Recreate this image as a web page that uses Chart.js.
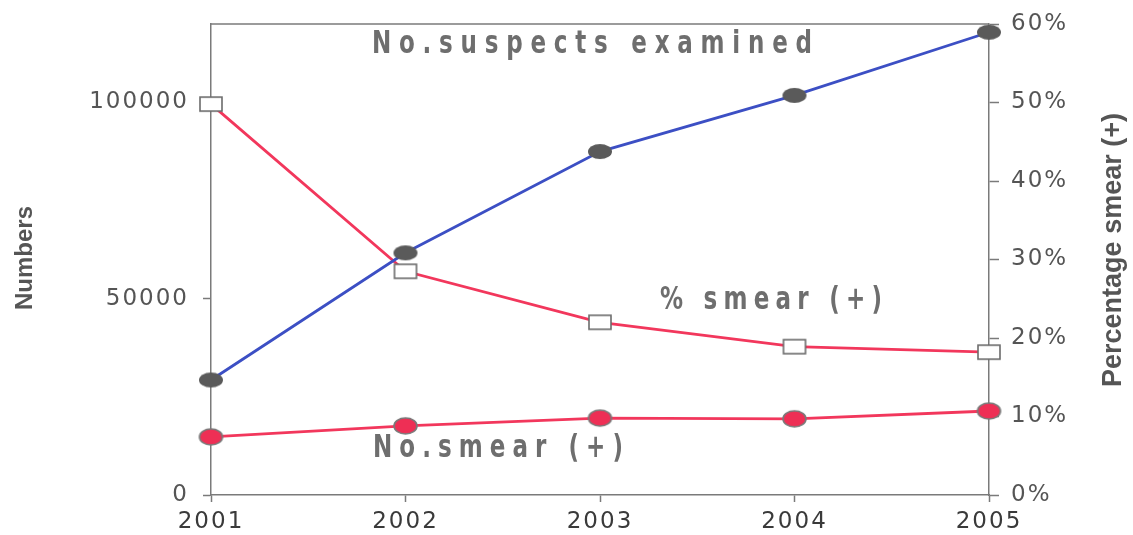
<!DOCTYPE html>
<html>
<head>
<meta charset="utf-8">
<script src="https://cdn.jsdelivr.net/npm/chart.js@4/dist/chart.umd.min.js"></script>
<style>
html,body{margin:0;padding:0;background:#fff;}
#wrap{width:1133px;height:535px;position:relative;}
</style>
</head>
<body>
<div id="wrap"><canvas id="c"></canvas></div>
<script>
// data
const years = ['2001','2002','2003','2004','2005'];
const suspectsExamined = [29300, 61700, 87500, 101800, 117900];
const smearPositive = [14800, 17600, 19600, 19400, 21400];
const pctSmear = [49.8, 28.5, 22.0, 18.9, 18.2];
const leftTicks = [0, 50000, 100000];
const rightTicks = [0, 10, 20, 30, 40, 50, 60];

// marker images
function ellipseMark(w, h, fill, stroke){
  const c = document.createElement('canvas'); c.width = w + 4; c.height = h + 4;
  const g = c.getContext('2d');
  g.beginPath(); g.ellipse(c.width/2, c.height/2, w/2, h/2, 0, 0, Math.PI*2);
  g.fillStyle = fill; g.fill();
  if (stroke){ g.lineWidth = 1.6; g.strokeStyle = stroke; g.stroke(); }
  return c;
}
function boxMark(w, h){
  const c = document.createElement('canvas'); c.width = w + 4; c.height = h + 4;
  const g = c.getContext('2d');
  g.fillStyle = '#fff'; g.fillRect(2, 2, w, h);
  g.lineWidth = 1.6; g.strokeStyle = '#6b6b6b'; g.strokeRect(2, 2, w, h);
  return c;
}
const greyDot = ellipseMark(24, 15, '#5a5a5a', null);
const redDot = ellipseMark(23, 16, '#ee2f55', '#7a7a7a');
const openBox = boxMark(22, 14);

// narrow, letter-spaced label stretched to a given width
function spaced(ctx, text, cx, cy, width, color){
  const sx = 0.72;
  ctx.save();
  ctx.font = 'bold 32px "DejaVu Sans", sans-serif'; ctx.fillStyle = color;
  ctx.textBaseline = 'middle'; ctx.textAlign = 'left';
  ctx.letterSpacing = '0px';
  const w0 = ctx.measureText(text).width;
  const ls = (width / sx - w0) / (text.length - 1);
  ctx.letterSpacing = ls + 'px';
  ctx.translate(cx - width/2, cy); ctx.scale(sx, 1);
  ctx.fillText(text, 0, 0);
  ctx.restore();
}

const extras = {
  id: 'extras',
  beforeLayout(chart){ chart.ctx.letterSpacing = '2px'; },
  beforeDraw(chart){ chart.ctx.letterSpacing = '2px'; },
  afterDraw(chart){
    const ctx = chart.ctx, a = chart.chartArea;
    ctx.save();
    ctx.letterSpacing = '0px';
    ctx.strokeStyle = '#7a7a7a'; ctx.lineWidth = 1.5;
    ctx.beginPath(); ctx.moveTo(a.left, a.top); ctx.lineTo(a.right, a.top); ctx.stroke();
    // axis titles
    ctx.fillStyle = '#555'; ctx.textAlign = 'center'; ctx.textBaseline = 'middle';
    ctx.font = 'bold 24px "Liberation Sans", Arial, sans-serif';
    ctx.translate(25, 258); ctx.rotate(-Math.PI/2); ctx.fillText('Numbers', 0, 0);
    ctx.setTransform(1,0,0,1,0,0);
    ctx.font = 'bold 27px "Liberation Sans", Arial, sans-serif';
    ctx.translate(1114, 250); ctx.rotate(-Math.PI/2); ctx.fillText('Percentage smear (+)', 0, 0);
    ctx.restore();
    spaced(ctx, 'No.suspects examined', 592, 45, 440, '#6e6e6e');
    spaced(ctx, '% smear (+)', 771, 301, 222, '#6e6e6e');
    spaced(ctx, 'No.smear (+)', 498, 449, 250, '#6e6e6e');
  }
};

const axisCol = '#7a7a7a';
const tickFont = { family: '"DejaVu Sans", sans-serif', size: 23 };
new Chart(document.getElementById('c'), {
  type: 'line',
  data: {
    labels: years,
    datasets: [
      { label: 'No.suspects examined', data: suspectsExamined, yAxisID: 'y', borderColor: '#3c4fc4', borderWidth: 2.8,
        pointStyle: greyDot, clip: false, tension: 0 },
      { label: 'No.smear (+)', data: smearPositive, yAxisID: 'y', borderColor: '#f2375c', borderWidth: 2.8,
        pointStyle: redDot, clip: false, tension: 0 },
      { label: '% smear (+)', data: pctSmear, yAxisID: 'y1', borderColor: '#f2375c', borderWidth: 2.8,
        pointStyle: openBox, clip: false, tension: 0 }
    ]
  },
  options: {
    responsive: true, maintainAspectRatio: false, animation: false,
    layout: { padding: { top: 24, left: 0, right: 0, bottom: 0 } },
    plugins: { legend: { display: false }, tooltip: { enabled: false } },
    scales: {
      x: {
        offset: false,
        grid: { drawOnChartArea: false, tickLength: 7, color: axisCol, tickWidth: 1.5 },
        border: { color: axisCol, width: 1.5 },
        ticks: { color: '#3a3a3a', padding: 6, font: tickFont, maxRotation: 0 },
        afterFit(s){ s.height = 40; }
      },
      y: {
        position: 'left', min: 0, max: 120000,
        afterBuildTicks(s){ s.ticks = leftTicks.map(v => ({ value: v })); },
        grid: { drawOnChartArea: false, tickLength: 8, color: axisCol, tickWidth: 1.5 },
        border: { color: axisCol, width: 1.5 },
        ticks: { color: '#555', padding: 14, font: tickFont, callback: v => String(v) },
        afterFit(s){ s.width = 211; s.paddingTop = 0; s.paddingBottom = 0; }
      },
      y1: {
        position: 'right', min: 0, max: 60,
        afterBuildTicks(s){ s.ticks = rightTicks.map(v => ({ value: v })); },
        grid: { drawOnChartArea: false, tickLength: 10, color: axisCol, tickWidth: 1.5 },
        border: { color: axisCol, width: 1.5 },
        ticks: { color: '#555', padding: 12, font: tickFont, callback: v => v + '%' },
        afterFit(s){ s.width = 144; s.paddingTop = 0; s.paddingBottom = 0; }
      }
    }
  },
  plugins: [extras]
});
</script>
</body>
</html>
